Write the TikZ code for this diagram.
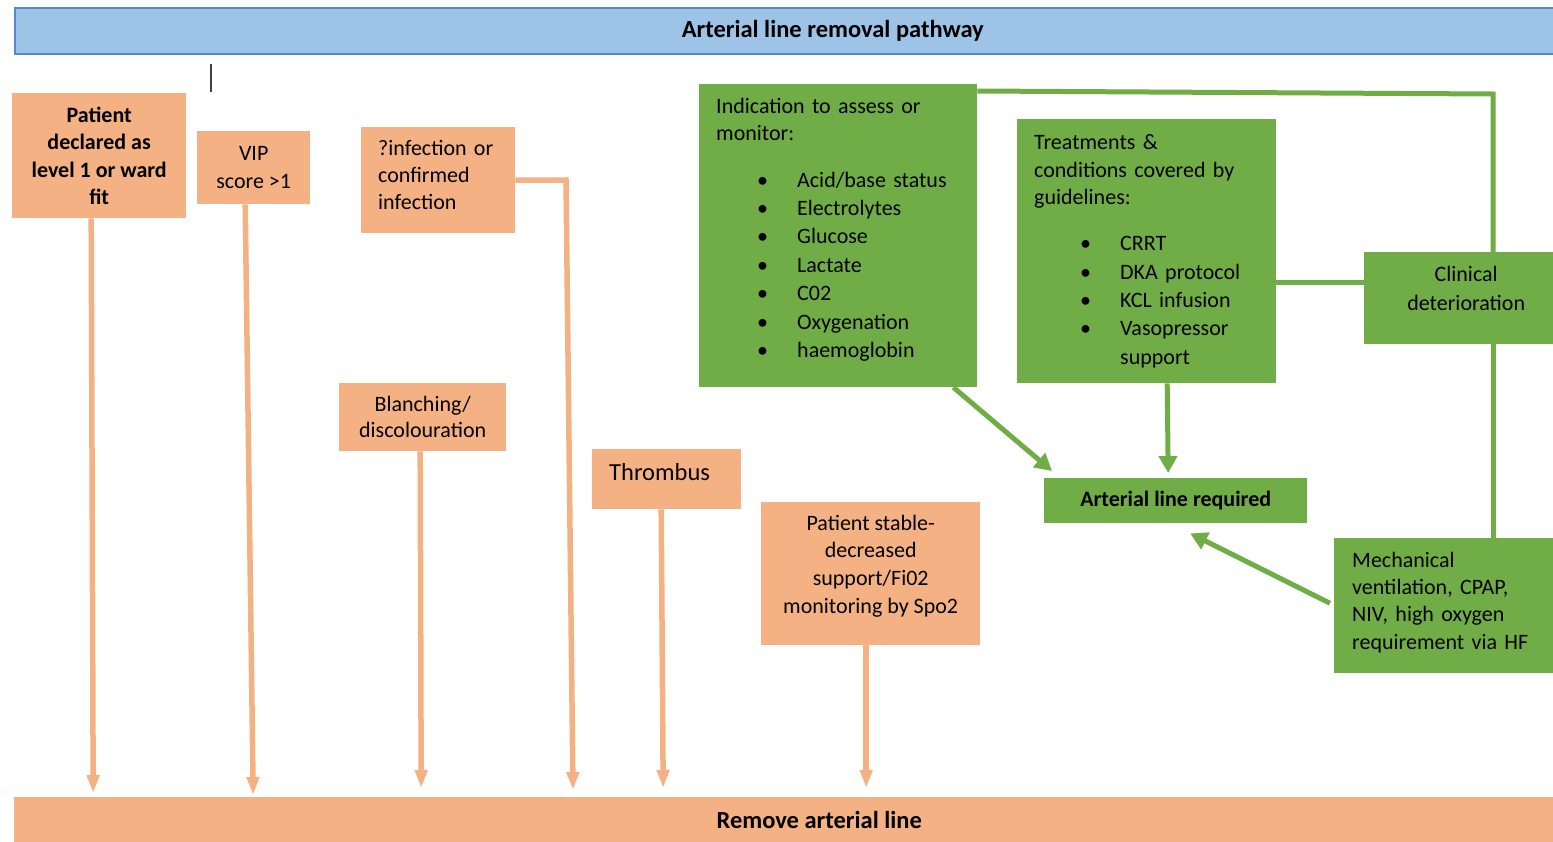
\documentclass[tikz,border=0pt]{standalone}
\usepackage{fontspec}
\setmainfont{Carlito}
\usetikzlibrary{arrows.meta,calc}
\definecolor{oran}{HTML}{F4B183}
\definecolor{grn}{HTML}{70AD47}
\definecolor{bluef}{HTML}{9DC3E6}
\definecolor{blued}{HTML}{5B86D0}
\tikzset{
  obox/.style={fill=oran, draw=none, anchor=north west, inner sep=0pt, font=\fontsize{22}{27.5}\selectfont},
  gbox/.style={fill=grn, draw=none, anchor=north west, inner sep=0pt, font=\fontsize{22}{28.4}\selectfont},
  oarr/.style={draw=oran, line width=5.5pt, -{Triangle[length=18pt,width=12pt]}},
  garr/.style={draw=grn, line width=5pt, -{Triangle[length=17pt,width=18pt]}},
  gline/.style={draw=grn, line width=5pt},
}
\newcommand{\bitemA}[1]{\hspace*{41pt}\makebox[40pt][l]{\textbullet}#1}
\newcommand{\bitemB}[1]{\hspace*{46pt}\makebox[40pt][l]{\textbullet}#1}
\newcommand{\padbot}[1]{\rule[-#1]{0pt}{0pt}}
\begin{document}
\begin{tikzpicture}[x=1pt,y=-1pt]
\useasboundingbox (0,0) rectangle (1553,841);
% title and bottom bars
\node[fill=bluef, draw=blued, line width=1.5pt, anchor=north west, minimum width=1636pt, minimum height=46pt, inner sep=0pt,
  font=\fontsize{24.5}{28}\selectfont\bfseries] (title) at (14,7) {Arterial line removal pathway};
\node[fill=oran, anchor=north west, minimum width=1610pt, minimum height=46pt, inner sep=0pt,
  font=\fontsize{24.5}{28}\selectfont\bfseries] (rem) at (14,797) {Remove arterial line};
% cursor mark
\draw[line width=1.5pt, black!75] (211,64) -- (211,92);
% orange boxes
\node[obox, minimum width=174pt, minimum height=125pt, align=center, font=\fontsize{22}{27.3}\selectfont\bfseries] (p1) at (12,93)
  {Patient\\declared as\\level 1 or ward\\fit};
\node[obox, minimum width=113pt, minimum height=73pt, align=center] (p2) at (197,131) {VIP\\score >1};
\node[obox, minimum width=154pt, minimum height=106pt, inner xsep=17pt, text width=120pt, align=left, font=\fontsize{22}{27}\selectfont] (p3) at (361,127)
  {?infection or\\confirmed\\infection\padbot{11pt}};
\node[obox, minimum width=167pt, minimum height=68pt, align=center, font=\fontsize{22}{26}\selectfont] (p4) at (339,383) {Blanching/\\discolouration};
\node[obox, minimum width=149pt, minimum height=60pt, inner xsep=17pt, text width=115pt, align=left, text depth=14pt,
  font=\fontsize{24.5}{28}\selectfont] (p5) at (592,449) {Thrombus};
\node[obox, minimum width=219pt, minimum height=143pt, align=center, font=\fontsize{22}{27.7}\selectfont] (p6) at (761,502)
  {Patient stable-\\decreased\\support/Fi02\\monitoring by Spo2\padbot{19.5pt}};
% green boxes
\node[gbox, minimum width=278pt, minimum height=303pt, inner xsep=17pt, text width=244pt, align=left] (gA) at (699,84)
  {Indication to assess or\\[-1.4pt]monitor:\\[18pt]
   \bitemA{Acid/base status}\\\bitemA{Electrolytes}\\\bitemA{Glucose}\\\bitemA{Lactate}\\\bitemA{C02}\\\bitemA{Oxygenation}\\\bitemA{haemoglobin}\padbot{15.5pt}};
\node[gbox, minimum width=259pt, minimum height=264pt, inner xsep=17pt, text width=225pt, align=left] (gB) at (1017,119)
  {Treatments \&\\conditions covered by\\[-2pt]guidelines:\\[18pt]
   \bitemB{CRRT}\\\bitemB{DKA protocol}\\\bitemB{KCL infusion}\\\bitemB{Vasopressor}\\\hspace*{86pt}support};
\node[gbox, minimum width=204pt, minimum height=92pt, align=center] (clin) at (1364,252) {Clinical\\deterioration\padbot{20pt}};
\node[gbox, minimum width=263pt, minimum height=45pt, align=center, font=\fontsize{22}{28}\selectfont\bfseries] (art) at (1044,478) {Arterial line required};
\node[gbox, minimum width=230pt, minimum height=135pt, inner xsep=18pt, text width=194pt, align=left, font=\fontsize{22}{27.3}\selectfont] (mech) at (1334,538)
  {Mechanical\\ventilation, CPAP,\\NIV, high oxygen\\requirement via HF\padbot{10pt}};
% orange connectors
\draw[oarr] ([xshift=-8pt]p1.south) -- ($(p1.south |- rem.north)+(-6,-4)$);
\draw[oarr] ([xshift=-8.5pt]p2.south) -- ($(p2.south |- rem.north)+(-0.5,-2)$);
\coordinate (c3) at (566,180);
\draw[oarr] (p3.east) -- (c3) -- ($(c3 |- rem.north)+(7,-7)$);
\draw[oarr] ([xshift=-2.5pt]p4.south) -- ($(p4.south |- rem.north)+(-1.5,-9)$);
\draw[oarr] ([xshift=-5.5pt]p5.south) -- ($(p5.south |- rem.north)+(-3.5,-9)$);
\draw[oarr] ([xshift=-4.5pt]p6.south) -- ($(p6.south |- rem.north)+(-4.5,-9)$);
% green connectors
\coordinate (corner) at (1493,94);
\draw[gline] ([yshift=-7pt]gA.north east) -- (corner) -- (corner |- clin.north);
\draw[gline] ([yshift=-31pt]gB.east) -- ([yshift=-31pt]gB.east -| clin.west);
\draw[gline] (corner |- clin.south) -- (corner |- mech.north);
\draw[garr] ([xshift=-24pt]gA.south east) -- ($(art.north west)+(8,-7)$);
\draw[garr] ([xshift=20.5pt]gB.south) -- ($(gB.south |- art.north)+(21.5,-5)$);
\draw[garr] ([xshift=-4pt,yshift=2.5pt]mech.west) -- ($(art.south)+(14.5,10)$);
\end{tikzpicture}
\end{document}
